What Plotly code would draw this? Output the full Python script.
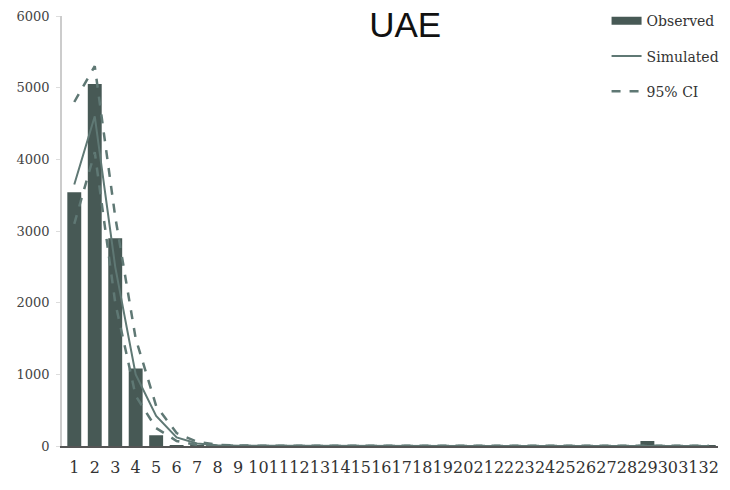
import plotly.graph_objects as go

categories = [str(i) for i in range(1, 33)]
observed = [3540, 5050, 2900, 1080, 150, 12, 5, 3, 2, 2, 2, 2, 2, 2, 2, 2,
            2, 2, 2, 2, 2, 2, 2, 2, 2, 2, 2, 2, 70, 2, 2, 2]
simulated = [3650, 4600, 2500, 1000, 420, 120, 35, 10, 3, 2, 1, 1, 1, 1, 1, 1,
             1, 1, 1, 1, 1, 1, 1, 1, 1, 1, 1, 1, 1, 1, 1, 1]
ci_upper = [4800, 5300, 3200, 1500, 560, 180, 60, 18, 6, 3, 2, 2, 2, 2, 2, 2,
            2, 2, 2, 2, 2, 2, 2, 2, 2, 2, 2, 2, 2, 2, 2, 2]
ci_lower = [3100, 4100, 2000, 700, 250, 70, 15, 4, 1, 0, 0, 0, 0, 0, 0, 0,
            0, 0, 0, 0, 0, 0, 0, 0, 0, 0, 0, 0, 0, 0, 0, 0]
y_ticks = [0, 1000, 2000, 3000, 4000, 5000, 6000]

bar_color = "#475955"
line_color = "#5f7874"
serif = "DejaVu Serif"

fig = go.Figure()
fig.add_trace(go.Bar(x=categories, y=observed, marker_color=bar_color,
                     marker_line_width=0, showlegend=False))
fig.add_trace(go.Scatter(x=categories, y=simulated, mode="lines",
                         line=dict(color=line_color, width=2), showlegend=False))
fig.add_trace(go.Scatter(x=categories, y=ci_upper, mode="lines",
                         line=dict(color=line_color, width=2.5, dash="dash"), showlegend=False))
fig.add_trace(go.Scatter(x=categories, y=ci_lower, mode="lines",
                         line=dict(color=line_color, width=2.5, dash="dash"), showlegend=False))
# legend entries
fig.add_trace(go.Scatter(x=[None], y=[None], mode="lines", name="Observed",
                         line=dict(color=bar_color, width=8), legendgroup="a"))
fig.add_trace(go.Scatter(x=[None], y=[None], mode="lines", name="Simulated",
                         line=dict(color=line_color, width=2), legendgroup="b"))
fig.add_trace(go.Scatter(x=[None], y=[None], mode="lines", name="95% CI",
                         line=dict(color=line_color, width=2.5, dash="dash"), legendgroup="c"))

fig.update_layout(
    width=730, height=490,
    margin=dict(l=62, r=5, t=15, b=44),
    plot_bgcolor="white", paper_bgcolor="white",
    bargap=0.32,
    title=dict(text="UAE", x=0.555, xanchor="center", y=0.95, yanchor="middle",
               font=dict(family="Liberation Sans", size=35, color="#111")),
    legend=dict(x=1.01, xanchor="right", y=1.025, yanchor="top",
                font=dict(family=serif, size=14, color="#333"),
                tracegroupgap=14, bgcolor="rgba(0,0,0,0)"),
    xaxis=dict(type="category", range=[-0.6, 31.45], showline=True,
               linecolor="#555", linewidth=1.5, ticks="",
               ticklabelstandoff=6,
               tickfont=dict(family=serif, size=16, color="#333"),
               showgrid=False, tickangle=0),
    yaxis=dict(range=[0, 6000], tickvals=y_ticks, showline=True, linecolor="#ccc",
               linewidth=1.5, ticks="outside", tickcolor="#ddd", ticklen=4,
               ticklabelstandoff=4,
               tickfont=dict(family=serif, size=13, color="#444"),
               showgrid=False, zeroline=False),
)

fig.write_html("out.html")
